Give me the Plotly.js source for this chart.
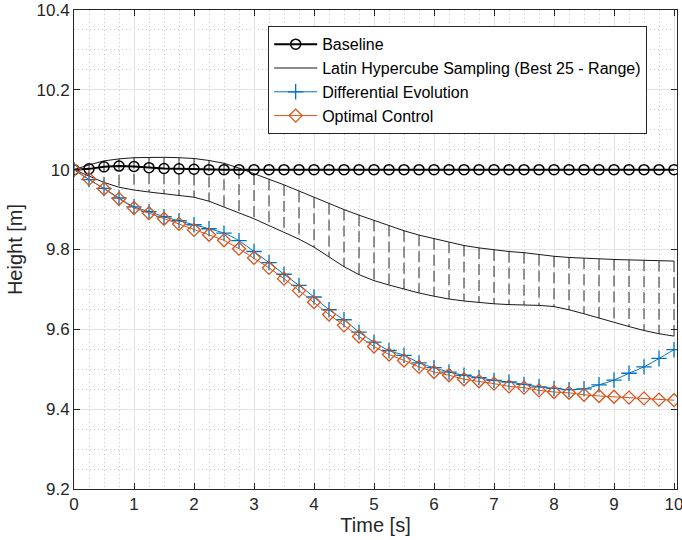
<!DOCTYPE html>
<html>
<head>
<meta charset="utf-8">
<script src="https://cdn.plot.ly/plotly-3.0.1.min.js"></script>
<style>html,body{margin:0;padding:0;background:#fff;}#chart{width:682px;height:540px;}</style>
</head>
<body>
<div id="chart"></div>
<script>
const time = [0,0.25,0.5,0.75,1,1.25,1.5,1.75,2,2.25,2.5,2.75,3,3.25,3.5,3.75,4,4.25,4.5,4.75,5,5.25,5.5,5.75,6,6.25,6.5,6.75,7,7.25,7.5,7.75,8,8.25,8.5,8.75,9,9.25,9.5,9.75,10];

const baseline = [10.0,10.002,10.007,10.009,10.008,10.005,10.003,10.002,10.001,10.0,10.0,10.0,10.0,10.0,10.0,10.0,10.0,10.0,10.0,10.0,10.0,10.0,10.0,10.0,10.0,10.0,10.0,10.0,10.0,10.0,10.0,10.0,10.0,10.0,10.0,10.0,10.0,10.0,10.0,10.0,10.0];

const lhsUpper = [10.0,10.012,10.022,10.027,10.030,10.031,10.031,10.030,10.028,10.023,10.016,10.004,9.989,9.976,9.962,9.946,9.931,9.915,9.900,9.886,9.873,9.860,9.847,9.836,9.827,9.818,9.810,9.804,9.799,9.795,9.792,9.787,9.783,9.780,9.778,9.776,9.775,9.774,9.773,9.772,9.771];

const lhsLower = [10.0,9.984,9.968,9.956,9.949,9.944,9.940,9.936,9.931,9.921,9.907,9.893,9.877,9.860,9.843,9.826,9.806,9.782,9.757,9.737,9.722,9.711,9.701,9.691,9.683,9.676,9.671,9.667,9.664,9.662,9.661,9.660,9.657,9.649,9.639,9.628,9.618,9.607,9.597,9.589,9.583];

const diffEvo = [10.0,9.975,9.953,9.929,9.907,9.895,9.882,9.872,9.862,9.852,9.841,9.822,9.795,9.767,9.738,9.710,9.681,9.649,9.624,9.593,9.568,9.547,9.535,9.516,9.504,9.493,9.485,9.479,9.472,9.468,9.462,9.456,9.452,9.449,9.451,9.461,9.473,9.490,9.506,9.527,9.549];

const optCtrl = [10.0,9.977,9.952,9.927,9.904,9.891,9.877,9.864,9.849,9.837,9.823,9.802,9.779,9.754,9.727,9.697,9.668,9.637,9.610,9.582,9.557,9.537,9.522,9.506,9.493,9.485,9.475,9.470,9.464,9.457,9.454,9.447,9.443,9.441,9.436,9.433,9.431,9.429,9.427,9.424,9.4225];

const xTicks = [0,1,2,3,4,5,6,7,8,9,10];
const yTicks = [9.2,9.4,9.6,9.8,10,10.2,10.4];
const yTickText = ['9.2','9.4','9.6','9.8','10','10.2','10.4'];
const seriesNames = ['Baseline','Latin Hypercube Sampling (Best 25 - Range)','Differential Evolution','Optimal Control'];

// hatch verticals between the bounds
const hx = [], hy = [];
for (let i = 0; i < time.length; i++) {
  hx.push(time[i], time[i], null);
  hy.push(lhsUpper[i], lhsLower[i], null);
}

const FONT = 'Liberation Sans, Arial, sans-serif';

const traces = [
  {x: hx, y: hy, mode: 'lines', line: {color: '#2a2a2a', width: 1, dash: '11px,5px'}, showlegend: false, hoverinfo: 'skip'},
  {x: time, y: lhsLower, mode: 'lines', line: {color: '#1a1a1a', width: 1}, showlegend: false},
  {x: time, y: lhsUpper, mode: 'lines', name: seriesNames[1], legendrank: 2, line: {color: '#1a1a1a', width: 1}},
  {x: time, y: baseline, mode: 'lines+markers', name: seriesNames[0], legendrank: 1,
   line: {color: '#000000', width: 2}, marker: {symbol: 'circle-open', size: 10, color: '#000000', line: {width: 1.5, color: '#000000'}}},
  {x: time, y: diffEvo, mode: 'lines+markers', name: seriesNames[2], legendrank: 3,
   line: {color: '#0072BD', width: 1, shape: 'spline'}, marker: {symbol: 'cross-thin-open', size: 11, color: '#0072BD', line: {width: 1.3, color: '#0072BD'}}},
  {x: time, y: optCtrl, mode: 'lines+markers', name: seriesNames[3], legendrank: 4,
   line: {color: '#D95319', width: 1}, marker: {symbol: 'diamond-open', size: 10, color: '#D95319', line: {width: 1.3, color: '#D95319'}}}
];

const axisCommon = {
  showline: true, linecolor: '#262626', linewidth: 1, mirror: 'ticks',
  ticks: 'inside', ticklen: 6, tickwidth: 1, tickcolor: '#262626',
  showgrid: true, gridcolor: '#e3e3e3', gridwidth: 1, zeroline: false,
  tickfont: {family: FONT, size: 17, color: '#262626'},
  ticklabeloverflow: 'allow',
  automargin: false
};

const layout = {
  width: 682, height: 540,
  margin: {l: 74, r: 5, t: 10, b: 51},
  paper_bgcolor: '#ffffff', plot_bgcolor: '#ffffff',
  showlegend: true,
  xaxis: Object.assign({}, axisCommon, {
    range: [0, 10.05], tickmode: 'array', tickvals: xTicks,
    minor: {dtick: 0.25, showgrid: true, gridcolor: '#c8c8c8', griddash: '1px,3px', gridwidth: 1},
    title: {text: 'Time [s]', font: {family: FONT, size: 20, color: '#262626'}, standoff: 3}
  }),
  yaxis: Object.assign({}, axisCommon, {
    range: [9.2, 10.4], tickmode: 'array', tickvals: yTicks, ticktext: yTickText,
    minor: {dtick: 0.05, showgrid: true, gridcolor: '#c8c8c8', griddash: '1px,3px', gridwidth: 1},
    title: {text: 'Height [m]', font: {family: FONT, size: 20, color: '#262626'}, standoff: 8}
  }),
  legend: {
    x: 0.322, y: 0.966, xanchor: 'left', yanchor: 'top',
    bgcolor: '#ffffff', bordercolor: '#262626', borderwidth: 1,
    font: {family: FONT, size: 16, color: '#000000'},
    itemwidth: 43, tracegroupgap: 0
  }
};

Plotly.newPlot('chart', traces, layout, {displayModeBar: false, staticPlot: true});
</script>
</body>
</html>
